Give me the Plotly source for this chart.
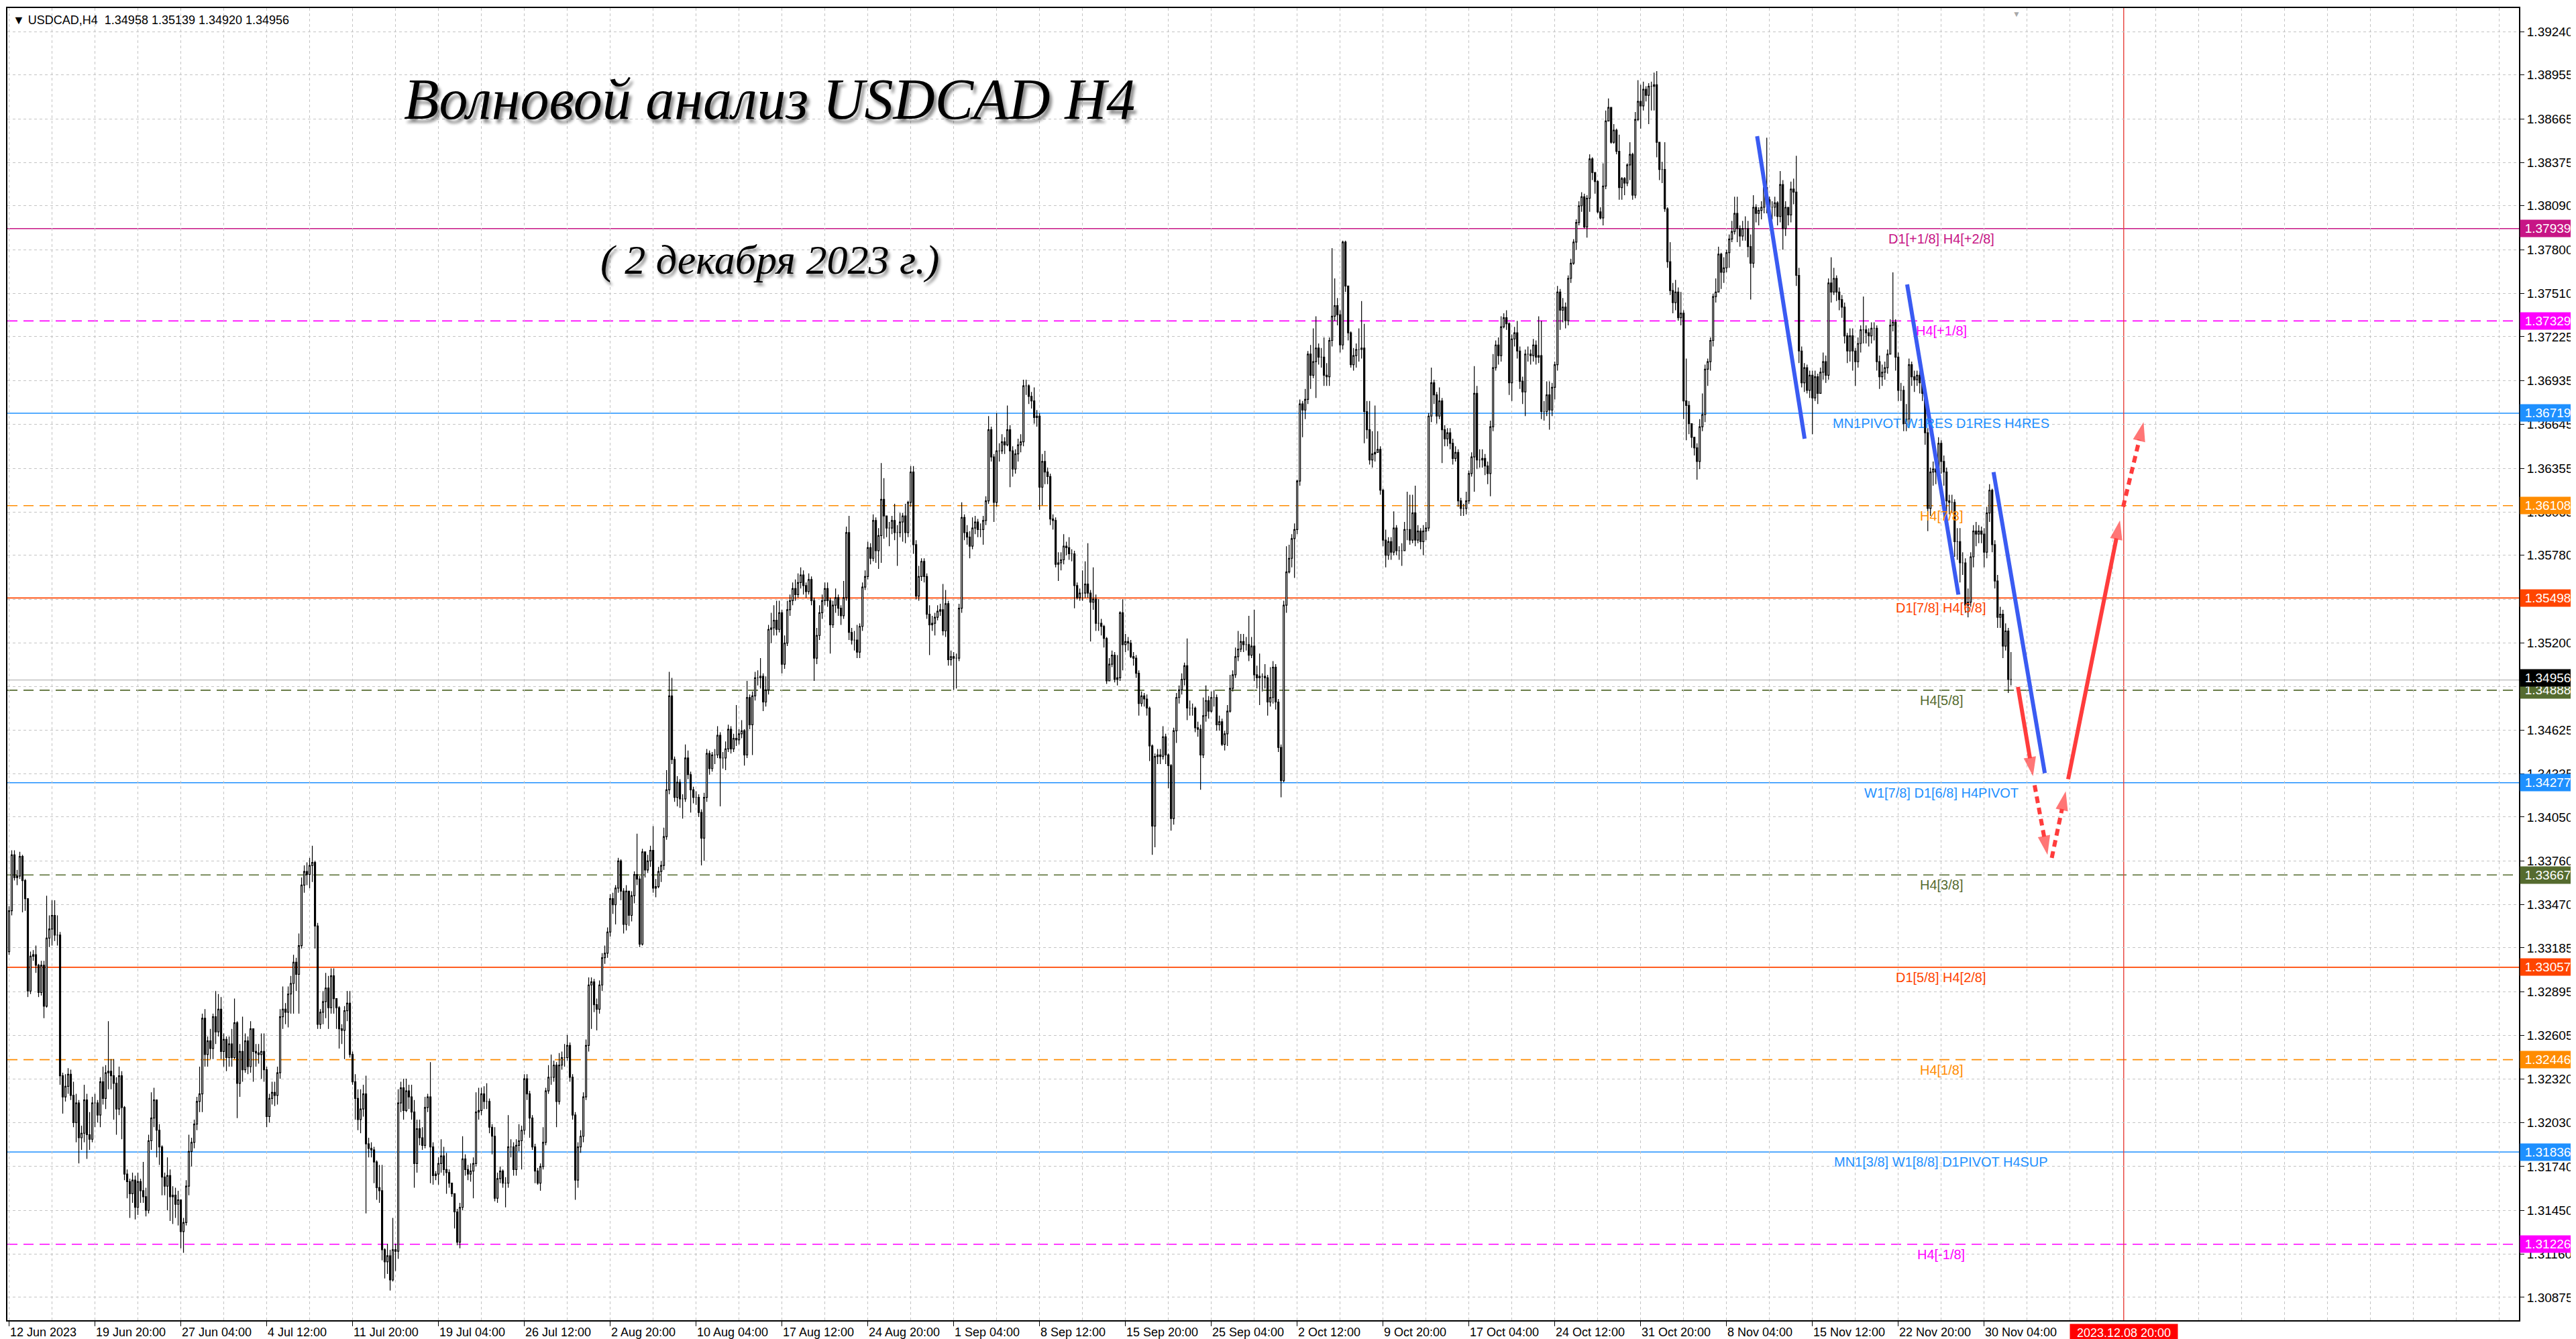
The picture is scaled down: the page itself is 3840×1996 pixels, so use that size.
import plotly.graph_objects as go

# USDCAD H4 bars from 12 Jun 2023 12:00 to 1 Dec 2023 20:00 (bar index = x)
# prices are stored in 1e-4 units, open of each bar = previous close
first_open = 13316

close_jun_jul = [
    13343, 13380, 13365, 13366, 13379, 13363, 13351, 13290, 13313, 13314,
    13307, 13289, 13307, 13280, 13325, 13331, 13340, 13327, 13327, 13234,
    13220, 13227, 13235, 13221, 13203, 13216, 13193, 13196, 13218, 13195,
    13192, 13216, 13216, 13208, 13230, 13219, 13236, 13237, 13234, 13229,
    13212, 13234, 13213, 13169, 13164, 13156, 13165, 13147, 13164, 13158,
    13154, 13145, 13191, 13206, 13218, 13198, 13187, 13167, 13161, 13168,
    13154, 13155, 13149, 13152, 13131, 13137, 13161, 13184, 13190, 13202,
    13217, 13222, 13272, 13248, 13257, 13252, 13273, 13263, 13278, 13250,
    13258, 13246, 13255, 13246, 13269, 13229, 13250, 13238, 13257, 13240,
    13265, 13250, 13249, 13248, 13250, 13238, 13207, 13219, 13223, 13221,
    13236, 13273, 13278, 13276, 13288, 13295, 13309, 13301, 13320, 13360,
    13369, 13367, 13373, 13375, 13333, 13268, 13276, 13283, 13292, 13279,
    13300, 13285, 13279, 13265, 13264, 13277, 13282, 13248, 13230, 13219,
    13205, 13212, 13222, 13189, 13186, 13185, 13177, 13160, 13158, 13119,
    13111, 13115, 13099, 13119, 13118, 13216, 13226, 13211, 13224, 13220,
    13210, 13176, 13199, 13193]
high_jun_jul = [
    13346, 13383, 13383, 13370, 13382, 13380, 13364, 13335, 13316, 13317,
    13320, 13308, 13310, 13310, 13353, 13340, 13350, 13350, 13340, 13329,
    13236, 13235, 13239, 13238, 13230, 13222, 13218, 13201, 13228, 13222,
    13210, 13220, 13222, 13218, 13233, 13240, 13241, 13270, 13245, 13245,
    13233, 13240, 13237, 13214, 13172, 13166, 13170, 13168, 13170, 13166,
    13177, 13160, 13195, 13223, 13226, 13218, 13202, 13188, 13170, 13180,
    13172, 13161, 13160, 13158, 13152, 13140, 13165, 13195, 13193, 13205,
    13220, 13240, 13275, 13278, 13260, 13265, 13275, 13290, 13288, 13286,
    13262, 13260, 13260, 13265, 13285, 13270, 13255, 13273, 13262, 13260,
    13270, 13265, 13255, 13255, 13262, 13262, 13240, 13222, 13230, 13230,
    13240, 13278, 13293, 13282, 13293, 13300, 13314, 13312, 13328, 13365,
    13373, 13375, 13378, 13386, 13376, 13335, 13278, 13290, 13302, 13300,
    13305, 13305, 13285, 13280, 13268, 13280, 13290, 13290, 13250, 13235,
    13225, 13225, 13228, 13234, 13193, 13190, 13187, 13178, 13175, 13175,
    13120, 13123, 13119, 13140, 13123, 13225, 13230, 13232, 13232, 13228,
    13228, 13218, 13205, 13205]
low_jun_jul = [
    13314, 13340, 13363, 13360, 13364, 13342, 13343, 13286, 13288, 13310,
    13302, 13286, 13287, 13272, 13279, 13319, 13320, 13323, 13320, 13228,
    13209, 13217, 13222, 13218, 13200, 13190, 13176, 13185, 13190, 13179,
    13185, 13190, 13200, 13203, 13200, 13215, 13212, 13225, 13225, 13205,
    13195, 13208, 13192, 13165, 13153, 13140, 13150, 13139, 13142, 13150,
    13150, 13141, 13143, 13185, 13200, 13180, 13175, 13155, 13155, 13145,
    13138, 13136, 13140, 13135, 13120, 13117, 13135, 13155, 13174, 13186,
    13198, 13210, 13210, 13240, 13240, 13245, 13245, 13255, 13260, 13245,
    13240, 13237, 13240, 13240, 13245, 13206, 13220, 13230, 13236, 13235,
    13236, 13230, 13240, 13242, 13232, 13230, 13200, 13203, 13215, 13214,
    13215, 13232, 13265, 13268, 13266, 13275, 13275, 13290, 13275, 13318,
    13355, 13360, 13358, 13362, 13318, 13265, 13265, 13268, 13272, 13265,
    13275, 13275, 13265, 13252, 13255, 13245, 13270, 13246, 13228, 13205,
    13198, 13196, 13207, 13143, 13180, 13180, 13163, 13152, 13150, 13112,
    13100, 13103, 13092, 13098, 13105, 13113, 13210, 13205, 13210, 13212,
    13205, 13160, 13170, 13188]

close_jul_aug = [
    13188, 13213, 13220, 13187, 13168, 13169, 13176, 13181, 13172, 13170,
    13163, 13156, 13144, 13124, 13147, 13179, 13172, 13169, 13171, 13176,
    13210, 13211, 13222, 13217, 13217, 13200, 13194, 13153, 13166, 13171,
    13163, 13163, 13187, 13187, 13172, 13188, 13191, 13198, 13232, 13222,
    13206, 13187, 13171, 13163, 13174, 13190, 13224, 13233, 13233, 13241,
    13217, 13241, 13246, 13246, 13254, 13233, 13208, 13165, 13187, 13194,
    13220, 13254, 13294, 13296, 13281, 13278, 13294, 13312, 13315, 13329,
    13351, 13347, 13358, 13376, 13356, 13334, 13356, 13340, 13353, 13367,
    13364, 13321, 13382, 13370, 13376, 13383, 13358, 13359, 13369, 13373,
    13392, 13423, 13485, 13443, 13418, 13428, 13417, 13417, 13444, 13433,
    13423, 13418, 13418, 13408, 13391, 13418, 13447, 13437, 13446, 13446,
    13459, 13444, 13444, 13450, 13463, 13450, 13457, 13456, 13460, 13462,
    13446, 13484, 13466, 13485, 13497, 13497, 13498, 13481, 13489, 13529,
    13530, 13535, 13529, 13540, 13506, 13520, 13542, 13548, 13556, 13552,
    13560, 13565, 13558, 13554, 13562, 13548, 13510, 13525, 13540, 13548,
    13556, 13548, 13532, 13545, 13550]
high_jul_aug = [
    13200, 13220, 13222, 13243, 13190, 13171, 13180, 13192, 13187, 13183,
    13172, 13163, 13156, 13146, 13150, 13194, 13182, 13175, 13176, 13180,
    13223, 13226, 13226, 13227, 13229, 13219, 13202, 13200, 13170, 13174,
    13172, 13167, 13208, 13192, 13190, 13192, 13202, 13201, 13235, 13235,
    13224, 13208, 13189, 13173, 13176, 13200, 13226, 13241, 13248, 13244,
    13243, 13249, 13250, 13255, 13261, 13256, 13235, 13210, 13190, 13198,
    13223, 13258, 13299, 13299, 13298, 13285, 13297, 13315, 13320, 13332,
    13354, 13355, 13360, 13378, 13377, 13358, 13360, 13352, 13356, 13369,
    13394, 13366, 13384, 13373, 13380, 13386, 13399, 13364, 13372, 13376,
    13398, 13436, 13501, 13497, 13445, 13432, 13430, 13420, 13453, 13449,
    13435, 13425, 13422, 13420, 13410, 13421, 13450, 13449, 13448, 13450,
    13465, 13461, 13448, 13455, 13466, 13465, 13460, 13479, 13463, 13469,
    13463, 13495, 13486, 13488, 13501, 13502, 13510, 13500, 13498, 13532,
    13540, 13545, 13548, 13548, 13542, 13525, 13548, 13552, 13560, 13562,
    13566, 13570, 13568, 13560, 13566, 13564, 13550, 13530, 13545, 13552,
    13560, 13560, 13550, 13548, 13556]
low_jul_aug = [
    13185, 13186, 13210, 13163, 13162, 13165, 13162, 13170, 13168, 13156,
    13160, 13154, 13133, 13122, 13120, 13145, 13168, 13165, 13164, 13153,
    13174, 13205, 13208, 13212, 13212, 13196, 13182, 13151, 13150, 13163,
    13160, 13147, 13160, 13180, 13168, 13168, 13184, 13172, 13195, 13218,
    13193, 13185, 13163, 13162, 13158, 13172, 13188, 13222, 13228, 13230,
    13200, 13215, 13238, 13240, 13244, 13230, 13205, 13152, 13160, 13183,
    13190, 13218, 13250, 13265, 13276, 13264, 13275, 13290, 13308, 13312,
    13326, 13341, 13334, 13355, 13350, 13328, 13330, 13333, 13336, 13348,
    13360, 13319, 13320, 13365, 13368, 13372, 13355, 13352, 13358, 13362,
    13370, 13390, 13420, 13440, 13415, 13412, 13411, 13404, 13415, 13430,
    13408, 13414, 13413, 13405, 13373, 13376, 13415, 13433, 13435, 13440,
    13444, 13412, 13437, 13436, 13448, 13447, 13448, 13452, 13453, 13457,
    13439, 13444, 13463, 13446, 13482, 13492, 13490, 13475, 13478, 13486,
    13520, 13525, 13525, 13527, 13500, 13503, 13518, 13538, 13545, 13548,
    13550, 13556, 13552, 13550, 13552, 13545, 13495, 13506, 13522, 13536,
    13545, 13544, 13513, 13530, 13540]

close_aug_sep = [
    13543, 13538, 13550, 13593, 13527, 13522, 13522, 13514, 13531, 13557,
    13564, 13583, 13576, 13601, 13581, 13591, 13615, 13604, 13596, 13596,
    13601, 13593, 13593, 13600, 13604, 13593, 13613, 13633, 13585, 13551,
    13564, 13574, 13564, 13539, 13532, 13533, 13537, 13541, 13542, 13528,
    13546, 13509, 13511, 13510, 13510, 13543, 13603, 13593, 13590, 13584,
    13596, 13600, 13595, 13595, 13601, 13614, 13661, 13643, 13613, 13647,
    13647, 13653, 13651, 13661, 13647, 13635, 13645, 13651, 13653, 13690,
    13690, 13683, 13680, 13669, 13670, 13623, 13640, 13633, 13630, 13602,
    13601, 13572, 13573, 13575, 13584, 13583, 13579, 13579, 13558, 13550,
    13553, 13553, 13559, 13553, 13547, 13549, 13533, 13533, 13531, 13523,
    13495, 13506, 13512, 13496, 13497, 13540, 13519, 13521, 13520, 13511,
    13510, 13500, 13480, 13485, 13483, 13477, 13452, 13399, 13445, 13446,
    13445, 13458, 13446, 13439, 13404, 13462, 13484, 13489, 13496, 13505,
    13477, 13477, 13477, 13464, 13463, 13446, 13472, 13482, 13475, 13484,
    13484, 13466, 13468, 13453, 13460, 13475, 13490, 13499, 13511, 13516,
    13521, 13519, 13519, 13512, 13518, 13499]
high_aug_sep = [
    13552, 13545, 13561, 13597, 13604, 13530, 13528, 13532, 13533, 13560,
    13568, 13587, 13586, 13605, 13603, 13596, 13639, 13629, 13602, 13600,
    13604, 13612, 13598, 13606, 13606, 13612, 13614, 13637, 13637, 13588,
    13571, 13576, 13576, 13566, 13545, 13538, 13540, 13545, 13546, 13559,
    13555, 13548, 13515, 13514, 13513, 13546, 13613, 13605, 13598, 13594,
    13603, 13604, 13602, 13599, 13604, 13617, 13670, 13663, 13645, 13672,
    13652, 13658, 13656, 13677, 13664, 13650, 13648, 13655, 13658, 13694,
    13694, 13691, 13686, 13689, 13674, 13672, 13645, 13647, 13636, 13632,
    13605, 13603, 13580, 13580, 13592, 13587, 13590, 13582, 13581, 13560,
    13556, 13568, 13574, 13586, 13555, 13570, 13552, 13549, 13536, 13532,
    13524, 13510, 13515, 13514, 13512, 13541, 13549, 13526, 13524, 13522,
    13514, 13512, 13502, 13488, 13487, 13486, 13478, 13453, 13447, 13450,
    13450, 13465, 13460, 13447, 13440, 13464, 13487, 13492, 13500, 13507,
    13523, 13482, 13480, 13478, 13468, 13466, 13484, 13492, 13485, 13488,
    13489, 13486, 13472, 13470, 13462, 13479, 13499, 13502, 13517, 13528,
    13526, 13526, 13524, 13538, 13524, 13542]
low_aug_sep = [
    13538, 13532, 13536, 13548, 13522, 13519, 13515, 13510, 13510, 13528,
    13555, 13562, 13572, 13574, 13573, 13569, 13573, 13589, 13590, 13584,
    13592, 13588, 13571, 13590, 13587, 13586, 13590, 13610, 13579, 13549,
    13548, 13561, 13560, 13536, 13512, 13528, 13525, 13535, 13538, 13525,
    13524, 13505, 13505, 13489, 13490, 13508, 13540, 13588, 13585, 13576,
    13582, 13592, 13590, 13590, 13585, 13598, 13612, 13640, 13600, 13610,
    13640, 13645, 13645, 13650, 13623, 13630, 13632, 13640, 13646, 13650,
    13684, 13678, 13675, 13665, 13663, 13608, 13611, 13625, 13625, 13598,
    13595, 13570, 13561, 13568, 13572, 13578, 13575, 13574, 13543, 13549,
    13548, 13548, 13550, 13550, 13521, 13542, 13528, 13528, 13525, 13517,
    13493, 13495, 13504, 13494, 13492, 13495, 13502, 13514, 13515, 13510,
    13505, 13497, 13472, 13478, 13478, 13472, 13442, 13380, 13385, 13440,
    13440, 13443, 13440, 13424, 13396, 13400, 13454, 13480, 13486, 13492,
    13469, 13472, 13472, 13461, 13458, 13423, 13444, 13468, 13470, 13474,
    13478, 13462, 13462, 13452, 13449, 13452, 13474, 13488, 13497, 13508,
    13514, 13514, 13515, 13508, 13510, 13495]

close_sep_oct = [
    13497, 13498, 13498, 13497, 13481, 13484, 13504, 13481, 13451, 13429,
    13545, 13567, 13576, 13589, 13595, 13627, 13678, 13674, 13681, 13711,
    13697, 13706, 13715, 13709, 13709, 13697, 13696, 13720, 13736, 13743,
    13737, 13717, 13785, 13756, 13725, 13704, 13710, 13714, 13714, 13715,
    13673, 13661, 13641, 13645, 13646, 13648, 13621, 13588, 13578, 13587,
    13580, 13596, 13581, 13581, 13581, 13595, 13595, 13588, 13606, 13588,
    13594, 13587, 13594, 13596, 13670, 13692, 13684, 13670, 13680, 13661,
    13655, 13659, 13652, 13642, 13646, 13614, 13609, 13609, 13614, 13632,
    13643, 13685, 13641, 13641, 13642, 13637, 13632, 13663, 13702, 13717,
    13710, 13729, 13735, 13731, 13692, 13721, 13725, 13713, 13693, 13686,
    13711, 13711, 13710, 13717, 13709, 13710, 13673, 13673, 13684, 13674,
    13689, 13704, 13752, 13740, 13742, 13733, 13761, 13771, 13785, 13798,
    13809, 13815, 13795, 13814, 13840, 13831, 13825, 13805, 13801, 13822,
    13865, 13874, 13851, 13859, 13845, 13821, 13827, 13824, 13836, 13843,
    13816, 13866, 13878, 13875, 13886, 13882, 13888, 13888, 13889, 13851,
    13833, 13833, 13807, 13772]
high_sep_oct = [
    13505, 13513, 13500, 13506, 13499, 13504, 13508, 13506, 13483, 13453,
    13548, 13584, 13585, 13592, 13599, 13628, 13681, 13680, 13688, 13713,
    13717, 13728, 13736, 13718, 13715, 13722, 13705, 13722, 13781, 13761,
    13748, 13740, 13786, 13786, 13740, 13726, 13715, 13718, 13728, 13746,
    13731, 13680, 13680, 13660, 13677, 13660, 13650, 13622, 13595, 13590,
    13590, 13607, 13598, 13584, 13586, 13600, 13620, 13618, 13618, 13624,
    13598, 13596, 13598, 13600, 13672, 13702, 13694, 13686, 13689, 13682,
    13664, 13662, 13662, 13655, 13650, 13648, 13616, 13612, 13620, 13634,
    13646, 13703, 13690, 13648, 13648, 13645, 13640, 13667, 13711, 13720,
    13722, 13736, 13738, 13740, 13732, 13724, 13729, 13733, 13716, 13696,
    13714, 13716, 13714, 13721, 13720, 13736, 13733, 13680, 13693, 13693,
    13692, 13706, 13756, 13754, 13748, 13745, 13763, 13774, 13787, 13800,
    13812, 13818, 13817, 13816, 13843, 13841, 13830, 13826, 13808, 13837,
    13872, 13880, 13868, 13863, 13860, 13856, 13828, 13828, 13837, 13851,
    13844, 13871, 13892, 13889, 13891, 13888, 13890, 13891, 13897, 13898,
    13851, 13838, 13851, 13808]
low_sep_oct = [
    13490, 13479, 13488, 13490, 13472, 13478, 13480, 13476, 13448, 13418,
    13428, 13540, 13566, 13570, 13563, 13592, 13624, 13656, 13668, 13678,
    13688, 13695, 13682, 13704, 13702, 13690, 13690, 13690, 13716, 13733,
    13730, 13712, 13714, 13752, 13720, 13702, 13700, 13702, 13706, 13708,
    13652, 13655, 13638, 13636, 13640, 13646, 13618, 13584, 13570, 13575,
    13575, 13578, 13578, 13575, 13571, 13590, 13588, 13585, 13586, 13584,
    13586, 13582, 13578, 13588, 13594, 13666, 13678, 13665, 13668, 13639,
    13650, 13650, 13648, 13638, 13640, 13610, 13604, 13604, 13605, 13612,
    13630, 13620, 13635, 13636, 13636, 13631, 13625, 13617, 13660, 13700,
    13704, 13706, 13728, 13727, 13684, 13680, 13716, 13708, 13688, 13678,
    13670, 13706, 13704, 13706, 13704, 13705, 13668, 13667, 13670, 13661,
    13670, 13681, 13700, 13727, 13732, 13728, 13730, 13758, 13770, 13780,
    13796, 13805, 13794, 13788, 13805, 13826, 13817, 13804, 13800, 13796,
    13820, 13865, 13850, 13850, 13843, 13813, 13813, 13816, 13822, 13826,
    13813, 13814, 13865, 13860, 13872, 13878, 13863, 13872, 13872, 13841,
    13826, 13824, 13805, 13768]

close_nov = [
    13753, 13745, 13752, 13735, 13738, 13680, 13677, 13665, 13656, 13649,
    13640, 13663, 13671, 13701, 13706, 13720, 13749, 13752, 13777, 13765,
    13768, 13778, 13787, 13792, 13804, 13794, 13789, 13794, 13794, 13782,
    13771, 13808, 13804, 13806, 13808, 13821, 13813, 13808, 13808, 13811,
    13802, 13823, 13794, 13808, 13803, 13820, 13818, 13763, 13713, 13692,
    13702, 13687, 13697, 13682, 13696, 13685, 13699, 13706, 13697, 13758,
    13752, 13761, 13752, 13747, 13742, 13723, 13713, 13723, 13713, 13706,
    13718, 13727, 13727, 13725, 13723, 13728, 13728, 13706, 13696, 13699,
    13702, 13711, 13730, 13732, 13709, 13687, 13687, 13665, 13668, 13704,
    13696, 13694, 13697, 13692, 13685, 13659, 13609, 13633, 13635, 13633,
    13652, 13640, 13633, 13614, 13613, 13613, 13587, 13587, 13573, 13573,
    13545, 13547, 13577, 13594, 13592, 13594, 13592, 13580, 13606, 13621,
    13585, 13561, 13537, 13539, 13518, 13528, 13496, 13496]
high_nov = [
    13785, 13758, 13760, 13755, 13752, 13740, 13708, 13680, 13664, 13656,
    13652, 13668, 13685, 13704, 13708, 13722, 13751, 13761, 13782, 13778,
    13775, 13780, 13790, 13799, 13815, 13815, 13796, 13799, 13802, 13799,
    13790, 13816, 13810, 13808, 13812, 13821, 13854, 13815, 13812, 13815,
    13812, 13832, 13826, 13812, 13808, 13825, 13827, 13842, 13768, 13716,
    13705, 13704, 13700, 13700, 13700, 13698, 13702, 13712, 13710, 13761,
    13775, 13768, 13763, 13755, 13750, 13745, 13725, 13728, 13728, 13715,
    13722, 13730, 13749, 13730, 13728, 13732, 13732, 13730, 13710, 13704,
    13706, 13714, 13734, 13765, 13734, 13712, 13692, 13690, 13678, 13708,
    13706, 13700, 13700, 13700, 13695, 13688, 13662, 13636, 13640, 13642,
    13656, 13654, 13644, 13636, 13618, 13618, 13615, 13596, 13596, 13580,
    13576, 13556, 13580, 13598, 13600, 13598, 13597, 13596, 13610, 13625,
    13622, 13588, 13565, 13544, 13542, 13533, 13530, 13514]
low_nov = [
    13750, 13738, 13740, 13733, 13730, 13668, 13654, 13658, 13649, 13644,
    13628, 13635, 13660, 13666, 13690, 13700, 13716, 13745, 13752, 13754,
    13758, 13765, 13768, 13785, 13790, 13785, 13782, 13786, 13786, 13775,
    13747, 13768, 13798, 13796, 13800, 13804, 13804, 13800, 13800, 13802,
    13796, 13798, 13780, 13789, 13796, 13798, 13810, 13756, 13705, 13689,
    13686, 13685, 13682, 13658, 13680, 13678, 13690, 13694, 13692, 13694,
    13745, 13750, 13746, 13740, 13735, 13718, 13705, 13706, 13700, 13690,
    13702, 13712, 13718, 13718, 13716, 13718, 13720, 13700, 13688, 13690,
    13694, 13698, 13720, 13726, 13700, 13680, 13680, 13660, 13660, 13662,
    13690, 13686, 13690, 13685, 13680, 13651, 13594, 13604, 13624, 13625,
    13628, 13632, 13624, 13600, 13605, 13606, 13577, 13575, 13560, 13565,
    13540, 13537, 13544, 13570, 13584, 13586, 13586, 13570, 13576, 13600,
    13580, 13556, 13530, 13530, 13510, 13515, 13487, 13492]

price_ticks = [1.39240, 1.38955, 1.38665, 1.38375, 1.38090, 1.37800, 1.37510,
               1.37225, 1.36935, 1.36645, 1.36355, 1.36065, 1.35780, 1.35490,
               1.35200, 1.34910, 1.34625, 1.34335, 1.34050, 1.33760, 1.33470,
               1.33185, 1.32895, 1.32605, 1.32320, 1.32030, 1.31740, 1.31450,
               1.31160, 1.30875]

time_labels = ["12 Jun 2023", "19 Jun 20:00", "27 Jun 04:00", "4 Jul 12:00",
               "11 Jul 20:00", "19 Jul 04:00", "26 Jul 12:00", "2 Aug 20:00",
               "10 Aug 04:00", "17 Aug 12:00", "24 Aug 20:00", "1 Sep 04:00",
               "8 Sep 12:00", "15 Sep 20:00", "25 Sep 04:00", "2 Oct 12:00",
               "9 Oct 20:00", "17 Oct 04:00", "24 Oct 12:00", "31 Oct 20:00",
               "8 Nov 04:00", "15 Nov 12:00", "22 Nov 20:00", "30 Nov 04:00"]

# Murrey math levels
levels = [1.37939, 1.37329, 1.36719, 1.36108, 1.35498, 1.34888,
          1.34277, 1.33667, 1.33057, 1.32446, 1.31836, 1.31226]
level_names = ["D1[+1/8] H4[+2/8]", "H4[+1/8]", "MN1PIVOT W1RES D1RES H4RES",
               "H4[7/8]", "D1[7/8] H4[6/8]", "H4[5/8]",
               "W1[7/8] D1[6/8] H4PIVOT", "H4[3/8]", "D1[5/8] H4[2/8]",
               "H4[1/8]", "MN1[3/8] W1[8/8] D1PIVOT H4SUP", "H4[-1/8]"]
level_colors = ["#C71585", "#FF00FF", "#1E90FF", "#FF8C00", "#FF4500", "#556B2F",
                "#1E90FF", "#556B2F", "#FF4500", "#FF8C00", "#1E90FF", "#FF00FF"]
level_dashed = [False, True, False, True, False, True,
                False, True, False, True, False, True]

last_price = 1.34956
header = "▼ USDCAD,H4  1.34958 1.35139 1.34920 1.34956"
shift_bar = 788
shift_label = "2023.12.08 20:00"

# wave drawings (bar index, price)
wave_x = [[651.4, 669.1], [707.3, 726.4], [739.5, 758.6]]
wave_y = [[1.3855, 1.3655], [1.3757, 1.3552], [1.3633, 1.3434]]
forecast_x = [[748.6, 754.2], [754.8, 759.6], [761.2, 766.4], [767.3, 786.6], [787.8, 795.4]]
forecast_y = [[1.3491, 1.3432], [1.3426, 1.3380], [1.3378, 1.3422], [1.3430, 1.3601], [1.3610, 1.3666]]
forecast_dashed = [False, True, True, False, True]

# ---------------------------------------------------------------------------
closes = close_jun_jul + close_jul_aug + close_aug_sep + close_sep_oct + close_nov
highs = high_jun_jul + high_jul_aug + high_aug_sep + high_sep_oct + high_nov
lows = low_jun_jul + low_jul_aug + low_aug_sep + low_sep_oct + low_nov
n = min(len(closes), len(highs), len(lows))
closes, highs, lows = closes[:n], highs[:n], lows[:n]
opens = [first_open] + closes[:-1]
o = [v / 10000 for v in opens]
c = [v / 10000 for v in closes]
h = [max(a, b, d) / 10000 for a, b, d in zip(highs, opens, closes)]
l = [min(a, b, d) / 10000 for a, b, d in zip(lows, opens, closes)]
bars = list(range(n))

axis_font = "Liberation Sans, Arial, sans-serif"
grid_col = "#C4C4C4"

fig = go.Figure()

fig.add_trace(go.Candlestick(
    x=bars, open=o, high=h, low=l, close=c,
    increasing=dict(line=dict(color="black", width=1.2), fillcolor="white"),
    decreasing=dict(line=dict(color="black", width=1.2), fillcolor="black"),
    whiskerwidth=0, hoverinfo="skip", showlegend=False))

for xs, ys in zip(wave_x, wave_y):
    fig.add_trace(go.Scatter(x=xs, y=ys, mode="lines",
                             line=dict(color="#3A5BF2", width=6),
                             hoverinfo="skip", showlegend=False))

for xs, ys, dashed in zip(forecast_x, forecast_y, forecast_dashed):
    fig.add_trace(go.Scatter(
        x=xs, y=ys, mode="lines+markers",
        line=dict(color="#FF3C3C", width=6, dash="10px,7px" if dashed else "solid"),
        marker=dict(symbol="arrow", size=[0, 30], color="#FF3C3C", angleref="previous",
                    line=dict(width=0)),
        hoverinfo="skip", showlegend=False))

# level lines and their captions
for lv, name, col, dashed in zip(levels, level_names, level_colors, level_dashed):
    fig.add_shape(type="line", xref="paper", x0=0, x1=1, yref="y", y0=lv, y1=lv,
                  line=dict(color=col, width=1.6, dash="15px,9px" if dashed else "solid"),
                  layer="between")
    fig.add_annotation(x=720, y=lv, xref="x", yref="y", text=name, showarrow=False,
                       xanchor="center", yanchor="top", yshift=-2,
                       font=dict(family=axis_font, size=20, color=col))
    fig.add_annotation(x=1, y=lv, xref="paper", yref="y", text=f"{lv:.5f}", showarrow=False,
                       xanchor="left", xshift=1, width=80, height=23, bgcolor=col,
                       font=dict(family=axis_font, size=19, color="white"))

fig.add_shape(type="line", xref="paper", x0=0, x1=1, yref="y", y0=last_price, y1=last_price,
              line=dict(color="#B8B8B8", width=1.2), layer="between")
fig.add_annotation(x=1, y=last_price, xref="paper", yref="y", text=f"{last_price:.5f}",
                   showarrow=False, xanchor="left", xshift=1, yshift=3, width=80, height=23,
                   bgcolor="black", font=dict(family=axis_font, size=19, color="white"))

# shift separator with its date tag
fig.add_shape(type="line", xref="x", x0=shift_bar, x1=shift_bar, yref="paper", y0=0, y1=1,
              line=dict(color="#E8403A", width=1.4), layer="between")
fig.add_annotation(x=shift_bar, y=0, xref="x", yref="paper", text=shift_label, showarrow=False,
                   xanchor="center", yanchor="top", yshift=-5, bgcolor="#FF0000",
                   width=158, height=23,
                   font=dict(family=axis_font, size=18, color="white"))
fig.add_annotation(x=748, y=1, xref="x", yref="paper", text="▼", showarrow=False,
                   yanchor="top", yshift=2, font=dict(size=12, color="#A8A8A8"))

# time axis captions start at the tick
for i, lab in enumerate(time_labels):
    fig.add_annotation(x=i * 32, y=0, xref="x", yref="paper", text=lab, showarrow=False,
                       xanchor="left", yanchor="top", xshift=-1, yshift=-6,
                       font=dict(family=axis_font, size=18, color="black"))

fig.add_annotation(x=0, y=1, xref="paper", yref="paper", text=header, showarrow=False,
                   xanchor="left", yanchor="top", xshift=6, yshift=-6,
                   font=dict(family=axis_font, size=18, color="black"))

fig.add_annotation(x=1139, y=140, xref="paper", yref="paper", text="Волновой анализ USDCAD H4",
                   showarrow=False, xanchor="center", yanchor="middle",
                   font=dict(family="Liberation Serif, DejaVu Serif, serif", size=86,
                             style="italic", color="black",
                             shadow="4px 6px 4px rgba(0,0,0,0.45)"))
fig.add_annotation(x=1139, y=380, xref="paper", yref="paper", text="( 2 декабря 2023 г.)",
                   showarrow=False, xanchor="center", yanchor="middle",
                   font=dict(family="Liberation Serif, DejaVu Serif, serif", size=62,
                             style="italic", color="black",
                             shadow="3px 5px 4px rgba(0,0,0,0.45)"))

# title positions are given in pixels of the page; convert to paper fractions
plot_l, plot_r, plot_t, plot_b = 3, 3747, 4, 1960
for ann in fig.layout.annotations[-2:]:
    ann.x = (ann.x - plot_l) / (plot_r - plot_l)
    ann.y = 1 - (ann.y - plot_t) / (plot_b - plot_t)

major = list(range(0, 737, 32))
minor = list(range(16, 936, 32)) + list(range(768, 936, 32))

fig.update_layout(
    width=3840, height=1996,
    margin=dict(l=plot_l, r=3840 - plot_r, t=plot_t, b=1996 - plot_b),
    paper_bgcolor="white", plot_bgcolor="white", showlegend=False,
    xaxis=dict(range=[-0.63, 935.3], rangeslider=dict(visible=False),
               tickmode="array", tickvals=major, showticklabels=False,
               ticks="outside", ticklen=7, tickcolor="black",
               showgrid=True, gridcolor=grid_col, griddash="4px,4px", gridwidth=1,
               minor=dict(tickvals=minor, showgrid=True, gridcolor=grid_col,
                          griddash="4px,4px", ticks=""),
               zeroline=False, showline=True, mirror=True, linecolor="black", linewidth=2,
               automargin=False),
    yaxis=dict(range=[1.30724, 1.39397], side="right",
               tickmode="array", tickvals=price_ticks,
               ticktext=[f"{t:.5f}" for t in price_ticks],
               ticks="outside", ticklen=6, tickcolor="black",
               tickfont=dict(family=axis_font, size=19, color="black"),
               showgrid=True, gridcolor=grid_col, griddash="4px,4px", gridwidth=1,
               zeroline=False, showline=True, mirror=True, linecolor="black", linewidth=2,
               automargin=False),
)

fig.write_html("out.html")
